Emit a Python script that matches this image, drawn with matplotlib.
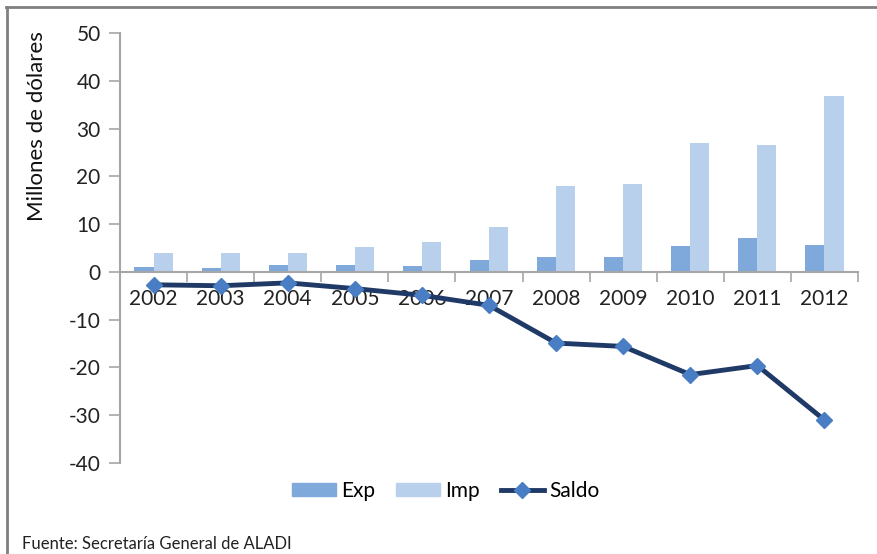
import matplotlib
matplotlib.use("Agg")
import matplotlib.pyplot as plt
from matplotlib.lines import Line2D
from matplotlib.patches import Patch
import numpy as np

plt.rcParams['font.family'] = ['Lato', 'DejaVu Sans']

years = ["2002", "2003", "2004", "2005", "2006", "2007", "2008", "2009", "2010", "2011", "2012"]
exp_vals = [1.0, 0.8, 1.5, 1.5, 1.2, 2.5, 3.1, 3.1, 5.4, 7.0, 5.6]
imp_vals = [3.9, 3.9, 3.9, 5.3, 6.2, 9.5, 18.0, 18.5, 26.9, 26.6, 36.8]
saldo_vals = [-2.7, -2.9, -2.3, -3.5, -4.9, -7.0, -14.9, -15.6, -21.5, -19.6, -31.0]
yticks = [-40, -30, -20, -10, 0, 10, 20, 30, 40, 50]

W, H = 877, 554
fig = plt.figure(figsize=(W / 100, H / 100), dpi=100)
ax = fig.add_axes([120 / W, 1 - 463 / H, (858 - 120) / W, (463 - 33) / H])

c_exp = "#7EA9DA"
c_imp = "#B9D0EC"
c_line = "#1F3A66"
c_mark = "#4A7EC4"

x = np.arange(len(years))
bw = 0.285
ax.bar(x - bw / 2, exp_vals, width=bw, color=c_exp, zorder=2)
ax.bar(x + bw / 2, imp_vals, width=bw, color=c_imp, zorder=2)
ax.plot(x, saldo_vals, color=c_line, lw=3.5, marker="D", ms=8,
        markerfacecolor=c_mark, markeredgecolor=c_mark, zorder=4)

ax.set_xlim(-0.5, len(years) - 0.5)
ax.set_ylim(-40, 50)
ax.set_yticks(yticks)
ax.set_yticklabels([str(v) for v in yticks], fontsize=15, color="#222222")
ax.tick_params(axis="y", length=8, width=1.2, color="#A6A6A6", pad=6)

for s in ["top", "right"]:
    ax.spines[s].set_visible(False)
ax.spines["left"].set_color("#A6A6A6")
ax.spines["left"].set_linewidth(1.5)
ax.spines["bottom"].set_position(("data", 0))
ax.spines["bottom"].set_color("#A6A6A6")
ax.spines["bottom"].set_linewidth(1.5)

ax.set_xticks(np.arange(len(years) + 1) - 0.5)
ax.set_xticklabels([])
ax.tick_params(axis="x", which="major", length=7, width=1.2, color="#A6A6A6", direction="out")
ax.set_xticks(x, minor=True)
ax.set_xticklabels(years, minor=True, fontsize=15, color="#222222")
ax.tick_params(axis="x", which="minor", length=0, pad=12)

fig.text(37 / W, 1 - 126 / H, "Millones de dólares", rotation=90, fontsize=16,
         ha="center", va="center", color="#111111")

handles = [Patch(color=c_exp, label="Exp"), Patch(color=c_imp, label="Imp"),
           Line2D([0], [0], color=c_line, lw=3.5, marker="D", ms=8,
                  markerfacecolor=c_mark, markeredgecolor=c_mark, label="Saldo")]
fig.legend(handles=handles, loc="center", bbox_to_anchor=(446 / W, 1 - 491 / H), ncol=3,
           frameon=False, fontsize=15, handlelength=2.1, handleheight=0.55,
           columnspacing=1.0, handletextpad=0.25)

fig.text(22 / W, 1 - 544 / H, "Fuente: Secretaría General de ALADI", fontsize=12,
         ha="left", va="center", color="#222222")

fig.add_artist(Line2D([6 / W, 1], [1 - 7 / H, 1 - 7 / H], color="#808080", lw=2,
                      transform=fig.transFigure))
fig.add_artist(Line2D([7 / W, 7 / W], [0, 1 - 7 / H], color="#808080", lw=2,
                      transform=fig.transFigure))

fig.savefig("out.png", dpi=100)
